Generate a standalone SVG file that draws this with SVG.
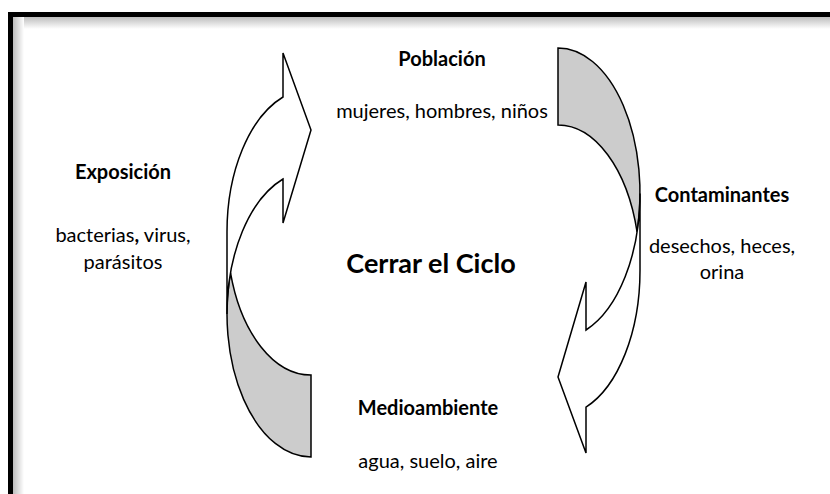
<svg xmlns="http://www.w3.org/2000/svg" width="830" height="494" viewBox="0 0 830 494">
  <defs>
    <linearGradient id="shTop" x1="0" y1="0" x2="0" y2="1">
      <stop offset="0" stop-color="#bdbdbd"/>
      <stop offset="1" stop-color="#ffffff"/>
    </linearGradient>
    <linearGradient id="shLeft" x1="0" y1="0" x2="1" y2="0">
      <stop offset="0" stop-color="#bdbdbd"/>
      <stop offset="1" stop-color="#ffffff"/>
    </linearGradient>
  </defs>
  <style>
    .band { fill: #cccccc; stroke: #000000; stroke-width: 1.5; stroke-linejoin: miter; }
    .body { fill: #ffffff; stroke: #000000; stroke-width: 1.5; stroke-linejoin: miter; }
    text { font-family: "Lato", "Liberation Sans", sans-serif; fill: #000000; text-anchor: middle; }
    .t { font-size: 20px; font-weight: bold; }
    .s { font-size: 20px; }
    .big { font-size: 27px; font-weight: bold; }
  </style>
  <rect x="0" y="0" width="830" height="494" fill="#ffffff"/>
  <g id="frame">
    <rect x="13" y="17" width="817" height="12" fill="url(#shTop)"/>
    <rect x="13" y="17" width="11" height="477" fill="url(#shLeft)"/>
    <rect x="8" y="12" width="822" height="5" fill="#000000"/>
    <rect x="8" y="12" width="5" height="482" fill="#000000"/>
  </g>
  <g id="connectors">
    <g id="arrow-left">
      <path class="band" d="M 311 375 A 84 143.1 0 0 1 230.52 272.9 A 84 143.1 0 0 0 311 457 Z"/>
      <path class="body" d="M 227 313.9 A 84 143.1 0 0 1 283 179 L 283 223 L 311 130 L 283 53 L 283 97 A 84 143.1 0 0 0 227 231.9 Z"/>
    </g>
    <g id="arrow-right">
      <path class="band" d="M 558 125 A 82 145.4 0 0 1 637.07 231.9 A 82 145.4 0 0 0 558 48 Z"/>
      <path class="body" d="M 640 193.4 A 82 145.4 0 0 1 586 330 L 586 282 L 558 377 L 586 453 L 586 407.1 A 82 145.4 0 0 0 640 270.4 Z"/>
    </g>
  </g>
  <g id="poblacion">
    <text class="t" x="442" y="66">Población</text>
    <text class="s" x="442" y="118">mujeres, hombres, niños</text>
  </g>
  <g id="exposicion">
    <text class="t" x="123" y="179">Exposición</text>
    <text class="s" x="123" y="242">bacterias<tspan font-weight="bold">,</tspan> virus,</text>
    <text class="s" x="123" y="269">parásitos</text>
  </g>
  <g id="centro">
    <text class="big" x="431" y="273">Cerrar el Ciclo</text>
  </g>
  <g id="contaminantes">
    <text class="t" x="722" y="202">Contaminantes</text>
    <text class="s" x="722" y="253">desechos, heces,</text>
    <text class="s" x="722" y="279">orina</text>
  </g>
  <g id="medioambiente">
    <text class="t" x="428" y="415">Medioambiente</text>
    <text class="s" x="428" y="468">agua, suelo, aire</text>
  </g>
</svg>
